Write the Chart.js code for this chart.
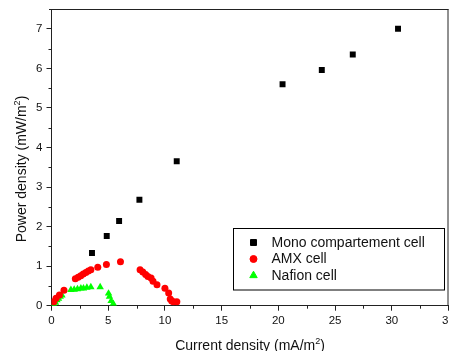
<!DOCTYPE html>
<html>
<head>
<meta charset="utf-8">
<script src="https://cdn.jsdelivr.net/npm/chart.js@4.4.1/dist/chart.umd.min.js"></script>
<style>
html,body{margin:0;padding:0;background:#fff;}
#wrap{width:449px;height:351px;position:relative;}
</style>
</head>
<body>
<div id="wrap"><canvas id="c" width="449" height="351"></canvas></div>
<script>
const seriesLabels = ['Mono compartement cell', 'AMX cell', 'Nafion cell'];
const xTitle = 'Current density (mA/m';
const yTitle = 'Power density (mW/m';

const monoX = [3.57, 4.87, 5.96, 7.75, 11.04, 20.37, 23.83, 26.56, 30.55];
const monoY = [1.33, 1.76, 2.14, 2.68, 3.65, 5.60, 5.96, 6.35, 7.00];

const amxX = [0.2, 0.4, 0.7, 1.1, 2.1, 2.35, 2.58, 2.8, 3.03, 3.25, 3.47, 4.08, 4.84, 6.08, 7.81, 8.05, 8.3, 8.5, 8.78, 8.95, 9.3, 10.0, 10.33, 10.47, 10.6, 10.75, 11.05];
const amxY = [0.10, 0.19, 0.27, 0.39, 0.68, 0.72, 0.76, 0.80, 0.84, 0.88, 0.91, 0.97, 1.04, 1.11, 0.91, 0.85, 0.79, 0.74, 0.70, 0.62, 0.53, 0.44, 0.32, 0.17, 0.12, 0.10, 0.10];

const nafionX = [0.2, 0.35, 0.48, 0.62, 0.77, 0.92, 1.71, 2.0, 2.29, 2.59, 2.82, 3.12, 3.47, 4.29, 5.03, 5.11, 5.26, 5.45];
const nafionY = [0.03, 0.08, 0.14, 0.18, 0.23, 0.26, 0.40, 0.41, 0.42, 0.44, 0.44, 0.46, 0.47, 0.47, 0.31, 0.23, 0.12, 0.05];

const xTicksMajor = [0, 5, 10, 15, 20, 25, 30, 35];
const yTicksMajor = [0, 1, 2, 3, 4, 5, 6, 7];

function pts(xs, ys){ return xs.map((x,i)=>({x:x, y:ys[i]})); }

const FONT = 'Arial, "Liberation Sans", sans-serif';

const framePlugin = {
  id: 'frame',
  afterDraw(chart){
    const ctx = chart.ctx, a = chart.chartArea;
    const xs = chart.scales.x, ys = chart.scales.y;
    ctx.save();
    ctx.strokeStyle = '#222';
    ctx.lineWidth = 1;
    // top and right frame
    ctx.beginPath();
    ctx.moveTo(a.left - 2.5, a.top + 0.5);
    ctx.lineTo(a.right, a.top + 0.5);
    ctx.moveTo(a.right - 0.5, a.top);
    ctx.lineTo(a.right - 0.5, a.bottom);
    ctx.stroke();
    // minor ticks
    ctx.beginPath();
    for (let i = 0; i < xTicksMajor.length - 1; i++) {
      const v = (xTicksMajor[i] + xTicksMajor[i+1]) / 2;
      const px = Math.round(xs.getPixelForValue(v)) + 0.5;
      ctx.moveTo(px, a.bottom); ctx.lineTo(px, a.bottom + 3);
    }
    for (let i = 0; i < yTicksMajor.length - 1; i++) {
      const v = (yTicksMajor[i] + yTicksMajor[i+1]) / 2;
      const py = Math.round(ys.getPixelForValue(v)) + 0.5;
      ctx.moveTo(a.left, py); ctx.lineTo(a.left - 3, py);
    }
    ctx.stroke();

    // axis titles with superscript
    ctx.fillStyle = '#111';
    function drawSup(text, cx, cy){
      ctx.font = '14px ' + FONT;
      const w1 = ctx.measureText(text).width;
      ctx.font = '9px ' + FONT;
      const w2 = ctx.measureText('2').width;
      ctx.font = '14px ' + FONT;
      const w3 = ctx.measureText(')').width;
      const total = w1 + w2 + w3;
      let x0 = cx - total/2;
      ctx.textBaseline = 'alphabetic';
      ctx.textAlign = 'left';
      ctx.fillText(text, x0, cy);
      ctx.font = '9px ' + FONT;
      ctx.fillText('2', x0 + w1, cy - 6);
      ctx.font = '14px ' + FONT;
      ctx.fillText(')', x0 + w1 + w2, cy);
    }
    drawSup(xTitle, (a.left + a.right)/2, 349.5);
    ctx.save();
    ctx.translate(26, 169);
    ctx.rotate(-Math.PI/2);
    drawSup(yTitle, 0, 0);
    ctx.restore();

    // legend
    const bx = 233.5, by = 228.5, bw = 211, bh = 61.5;
    ctx.fillStyle = '#fff';
    ctx.fillRect(bx, by, bw, bh);
    ctx.strokeStyle = '#000';
    ctx.lineWidth = 1;
    ctx.strokeRect(bx, by, bw, bh);
    const rows = [242.5, 259, 275.5];
    chart.data.datasets.forEach((ds, i) => {
      ctx.fillStyle = ds.backgroundColor;
      ctx.strokeStyle = ds.borderColor;
      ctx.lineWidth = 1;
      Chart.helpers.drawPoint(ctx, {pointStyle: ds.pointStyle, rotation: 0, radius: ds.pointRadius, borderWidth: 1}, 253.5, rows[i]);
      ctx.fillStyle = '#111';
      ctx.font = '14px ' + FONT;
      ctx.textBaseline = 'middle';
      ctx.textAlign = 'left';
      ctx.fillText(ds.label, 271.5, rows[i] + 0.5);
    });
    ctx.restore();
  }
};

new Chart(document.getElementById('c'), {
  type: 'scatter',
  data: {
    datasets: [
      {label: seriesLabels[0], data: pts(monoX, monoY), pointStyle: 'rect', pointRadius: 4.2, backgroundColor: '#000000', borderColor: '#000000', borderWidth: 0},
      {label: seriesLabels[1], data: pts(amxX, amxY), pointStyle: 'circle', pointRadius: 3.5, backgroundColor: '#ff0000', borderColor: '#ff0000', borderWidth: 0},
      {label: seriesLabels[2], data: pts(nafionX, nafionY), pointStyle: 'triangle', pointRadius: 4.3, backgroundColor: '#00ff00', borderColor: '#00ff00', borderWidth: 0}
    ]
  },
  options: {
    responsive: false,
    animation: false,
    devicePixelRatio: 1,
    layout: {autoPadding: false, padding: {top: 9, right: 0.5, left: 0, bottom: 0}},
    plugins: {legend: {display: false}, tooltip: {enabled: false}},
    scales: {
      x: {
        type: 'linear', min: 0, max: 35,
        afterFit(s){ s.height = 45.3; s.paddingLeft = 0; s.paddingRight = 0; },
        afterBuildTicks(s){ s.ticks = xTicksMajor.map(v=>({value:v})); },
        ticks: {includeBounds: false, stepSize: 5, color: '#111', padding: 3, font: {size: 11.5, family: FONT}, maxRotation: 0, autoSkip: false},
        grid: {drawOnChartArea: false, drawTicks: true, tickLength: 5, color: '#222'},
        border: {display: true, color: '#222', width: 1}
      },
      y: {
        type: 'linear', min: 0, max: 7.5,
        afterFit(s){ s.width = 51.5; s.paddingTop = 0; s.paddingBottom = 0; },
        afterBuildTicks(s){ s.ticks = yTicksMajor.map(v=>({value:v})); },
        ticks: {includeBounds: false, stepSize: 1, color: '#111', padding: 4, font: {size: 11.5, family: FONT}, autoSkip: false},
        grid: {drawOnChartArea: false, drawTicks: true, tickLength: 5, color: '#222'},
        border: {display: true, color: '#222', width: 1}
      }
    }
  },
  plugins: [framePlugin]
});
</script>
</body>
</html>
